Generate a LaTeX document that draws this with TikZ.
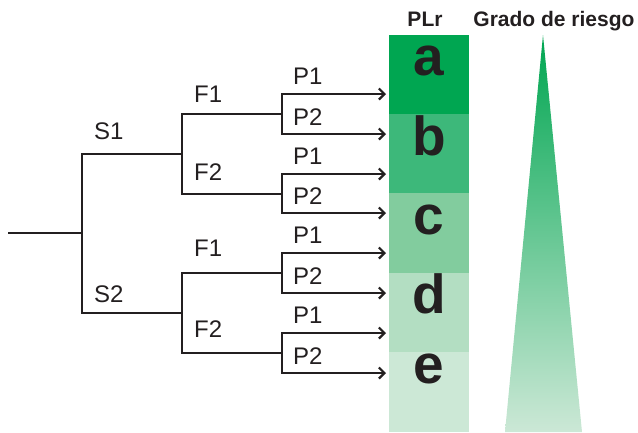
\documentclass[tikz,border=0pt]{standalone}
\usepackage{fontspec}
\setmainfont{Liberation Sans}
\usetikzlibrary{arrows.meta}
\definecolor{ink}{RGB}{35,31,32}
\definecolor{plA}{RGB}{0,166,81}
\definecolor{plB}{RGB}{61,184,122}
\definecolor{plC}{RGB}{130,204,158}
\definecolor{plD}{RGB}{179,222,194}
\definecolor{plE}{RGB}{204,232,214}
\tikzset{
  wire/.style={draw=ink, line width=2.2pt, line join=miter},
  arr/.style={wire, -{Straight Barb[length=5.5pt,width=11pt,line width=2.2pt]}},
  lbl/.style={anchor=base west, inner sep=0pt, text=ink, font=\fontsize{24}{28}\selectfont},
  big/.style={anchor=base, inner sep=0pt, text=ink, font=\fontsize{55}{60}\selectfont\bfseries},
  head/.style={anchor=base, inner sep=0pt, text=ink, font=\fontsize{21}{25}\selectfont\bfseries}
}
\begin{document}
\begin{tikzpicture}[x=1pt,y=-1pt]
\useasboundingbox (0,0) rectangle (638,432);
% colour bands
\fill[plA] (389,35) rectangle (469,114);
\fill[plB] (389,114) rectangle (469,193);
\fill[plC] (389,193) rectangle (469,273);
\fill[plD] (389,273) rectangle (469,352);
\fill[plE] (389,352) rectangle (469,432);
\node[big] (la) at (429,75) {a};
\node[big] (lb) at (429,155) {b};
\node[big] (lc) at (429,234) {c};
\node[big] (ld) at (429,313) {d};
\node[big] (le) at (429,383) {e};
% triangle
\shade[top color=plA, bottom color=plE] (543,35) -- (582,432) -- (505,432) -- cycle;
% headers
\node[head] (hplr) at (425,26) {PLr};
\node[head] (hgr) at (554,26) {Grado de riesgo};
% tree
\coordinate (root) at (8,233);
\coordinate (sj) at (82,233);
\coordinate (s1) at (182,154);
\coordinate (s2) at (182,313);
\coordinate (f11) at (282,114);
\coordinate (f12) at (282,194);
\coordinate (f21) at (282,273);
\coordinate (f22) at (282,353);
\coordinate (e1) at (386,94);
\coordinate (e2) at (386,134);
\coordinate (e3) at (386,174);
\coordinate (e4) at (386,213);
\coordinate (e5) at (386,253);
\coordinate (e6) at (386,293);
\coordinate (e7) at (386,333);
\coordinate (e8) at (386,373);
\draw[wire] (root) -- (sj);
\draw[wire] (sj) |- (s1);
\draw[wire] (sj) |- (s2);
\draw[wire] (s1) |- (f11);
\draw[wire] (s1) |- (f12);
\draw[wire] (s2) |- (f21);
\draw[wire] (s2) |- (f22);
\draw[arr] (f11) |- (e1);
\draw[arr] (f11) |- (e2);
\draw[arr] (f12) |- (e3);
\draw[arr] (f12) |- (e4);
\draw[arr] (f21) |- (e5);
\draw[arr] (f21) |- (e6);
\draw[arr] (f22) |- (e7);
\draw[arr] (f22) |- (e8);
% labels
\node[lbl] (ts1) at (94,139) {S1};
\node[lbl] (ts2) at (94,302) {S2};
\node[lbl] (tf11) at (194,102) {F1};
\node[lbl] (tf12) at (194,180) {F2};
\node[lbl] (tf21) at (194,256) {F1};
\node[lbl] (tf22) at (194,337) {F2};
\node[lbl] (tp1) at (293,84) {P1};
\node[lbl] (tp2) at (293,125) {P2};
\node[lbl] (tp3) at (293,164) {P1};
\node[lbl] (tp4) at (293,204) {P2};
\node[lbl] (tp5) at (293,243) {P1};
\node[lbl] (tp6) at (293,284) {P2};
\node[lbl] (tp7) at (293,323) {P1};
\node[lbl] (tp8) at (293,364) {P2};
\end{tikzpicture}
\end{document}
